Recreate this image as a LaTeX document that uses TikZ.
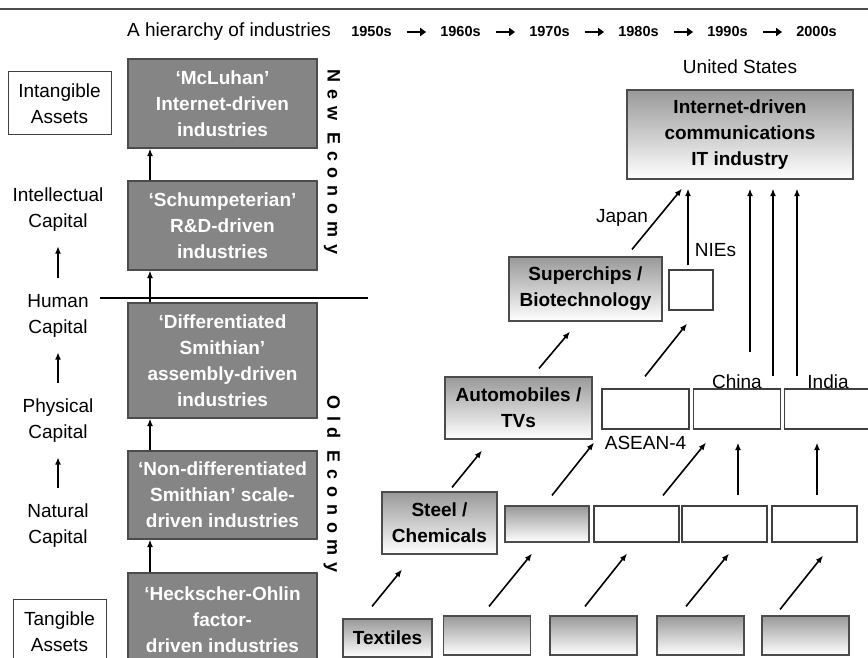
\documentclass[tikz,border=0pt]{standalone}
\usepackage{fontspec}
\setmainfont{Liberation Sans}
\newfontfamily\spacedfont{Liberation Sans}[LetterSpace=38]
\usetikzlibrary{positioning,arrows.meta}
\newcommand\boxfont{\fontsize{19}{26}\selectfont}

\begin{document}
\begin{tikzpicture}[
        x=1pt,y=-1pt,
        every node/.style={font=\boxfont, inner sep=0pt, align=center},
        graybox/.style={draw=black!70, line width=1.2pt, fill=black!48, text=white, font=\boxfont\bfseries, minimum width=189pt},
        shadebox/.style={draw=black!70, line width=1.2pt, top color=black!40, bottom color=white, font=\boxfont\bfseries},
        emptybox/.style={draw=black!75, line width=1.2pt, fill=white},
        assetbox/.style={draw=black!75, line width=1pt},
        capital/.style={minimum height=60pt},
        decade/.style={font=\fontsize{14.5}{17}\selectfont\bfseries},
        economy/.style={rotate=-90, font=\spacedfont\fontsize{18}{20}\selectfont\bfseries},
        arr/.style={line width=1.6pt, -{Latex[length=7.5pt,width=6pt]}},
        hdrarr/.style={line width=2.4pt, -{Triangle[length=6pt,width=8pt]}, shorten <=15pt, shorten >=14pt}
    ]
    \useasboundingbox (0,0) rectangle (868,658);
    \clip (0,0) rectangle (868,658);

    \draw[black!70, line width=1.2pt] (0,9) -- (868,9);
    \node (title) at (229,32) {A hierarchy of industries};
    \foreach \d [count=\i] in {1950s,1960s,1970s,1980s,1990s,2000s}
        \node[decade] (d\i) at ({371.5+89*(\i-1)},32) {\d};
    \foreach \i [evaluate=\i as \j using int(\i+1)] in {1,...,5}
        \draw[hdrarr] (d\i) -- (d\j);

    \node[assetbox, minimum width=103pt, minimum height=63pt] (intang) at (59.5,103.5) {Intangible\\Assets};
    \node[capital] (intell) at (58,210) {Intellectual\\Capital};
    \node[capital] (human) at (58,316) {Human\\Capital};
    \node[capital] (physical) at (58,421) {Physical\\Capital};
    \node[capital] (natural) at (58,526) {Natural\\Capital};
    \node[assetbox, minimum width=93pt, minimum height=66pt] (tang) at (59.5,632) {Tangible\\Assets};
    \foreach \lo/\hi in {natural/physical, physical/human, human/intell}
        \draw[arr, shorten <=8pt, shorten >=6pt] (\lo.north) -- (\hi.south);

    \node[graybox, minimum height=89pt] (mcluhan) at (222.5,103.5) {‘McLuhan’\\Internet-driven\\industries};
    \node[graybox, minimum height=89pt] (schump) at (222.5,225.5) {‘Schumpeterian’\\R\&D-driven\\industries};
    \node[graybox, minimum height=115pt] (diffsmith) at (222.5,360.5) {‘Differentiated\\Smithian’\\assembly-driven\\industries};
    \node[graybox, minimum height=88pt] (nondiff) at (222.5,495) {‘Non-differentiated\\Smithian’ scale-\\driven industries};
    \node[graybox, minimum height=94pt] (heck) at (222.5,620) {‘Heckscher-Ohlin\\factor-\\driven industries};
    \foreach \lo/\hi in {heck/nondiff, nondiff/diffsmith, diffsmith/schump, schump/mcluhan}
        \draw[arr] ([xshift=-72.5pt]\lo.north) -- ([xshift=-72.5pt]\hi.south);
    \draw[line width=1.8pt] (100,298) -- (368,298);
    \node[economy] (neweco) at (332,162) {New Economy};
    \node[economy] (oldeco) at (332,484) {Old Economy};

    \node[shadebox, minimum width=226pt, minimum height=89pt] (itind) at (740,134.5) {Internet-driven\\communications\\IT industry};
    \node[above=16pt of itind] (us) {United States};
    \node[shadebox, minimum width=153pt, minimum height=64pt] (chips) at (585.5,289) {Superchips /\\Biotechnology};
    \node[emptybox, minimum width=44pt, minimum height=40pt] (nies) at (691,290) {};
    \node[shadebox, minimum width=147pt, minimum height=62pt] (autos) at (518.5,408) {Automobiles /\\TVs};
    \foreach \n/\x in {1/645.5, 2/737, 3/828}
        \node[emptybox, minimum width=87pt, minimum height=40pt] (asean\n) at (\x,409) {};
    \node[above=0pt of asean2] (china) {China};
    \node[above=0pt of asean3] (india) {India};
    \node[below=6pt of asean1] (aseanlbl) {ASEAN-4};
    \node[shadebox, minimum width=115pt, minimum height=62pt] (steel) at (439.5,523) {Steel /\\Chemicals};
    \node[shadebox, minimum width=84pt, minimum height=36pt] (steel1) at (547,524) {};
    \foreach \n/\x in {2/636.5, 3/724.5, 4/814.5}
        \node[emptybox, minimum width=85pt, minimum height=36pt] (steel\n) at (\x,524) {};
    \node[shadebox, minimum width=89pt, minimum height=38pt] (textiles) at (387.5,638) {Textiles};
    \foreach \n/\x in {1/487, 2/593.5, 3/700.5, 4/805.5}
        \node[shadebox, minimum width=87pt, minimum height=39pt] (tex\n) at (\x,635.5) {};

    \foreach \lo/\hi/\s/\e in {textiles/steel/{-15.5,-12}/{-37.5,15}, tex1/steel1/{2,-9}/{-15,11},
            tex2/steel2/{-8.5,-9}/{-9.5,11}, tex3/steel3/{-14.5,-9}/{4.5,11}, tex4/steel4/{-25.5,-6}/{8.5,13},
            steel/autos/{12.5,-4}/{-36.5,11}, steel1/asean1/{5,-10}/{-51.5,13}, steel2/asean2/{26.5,-10}/{-31,13},
            steel3/asean2/{13.5,-10}/{1,13}, steel4/asean3/{2.5,-10}/{-11,13}, autos/chips/{20.5,-8}/{-15.5,10},
            asean1/nies/{-0.5,-12}/{-4,13}, chips/itind/{46.5,-7}/{-58,9}, nies/itind/{-3,-4}/{-52,9},
            asean2/itind/{13,-36}/{10,9}, asean2/itind/{36,-12}/{33,9}, asean3/itind/{-31,-12}/{57,9}}
        \draw[arr] ([shift={(\s)}]\lo.north) -- ([shift={(\e)}]\hi.south);
    \node (japan) at (622,218) {Japan};
    \node (nieslbl) at (715.5,250) {NIEs};
\end{tikzpicture}
\end{document}
